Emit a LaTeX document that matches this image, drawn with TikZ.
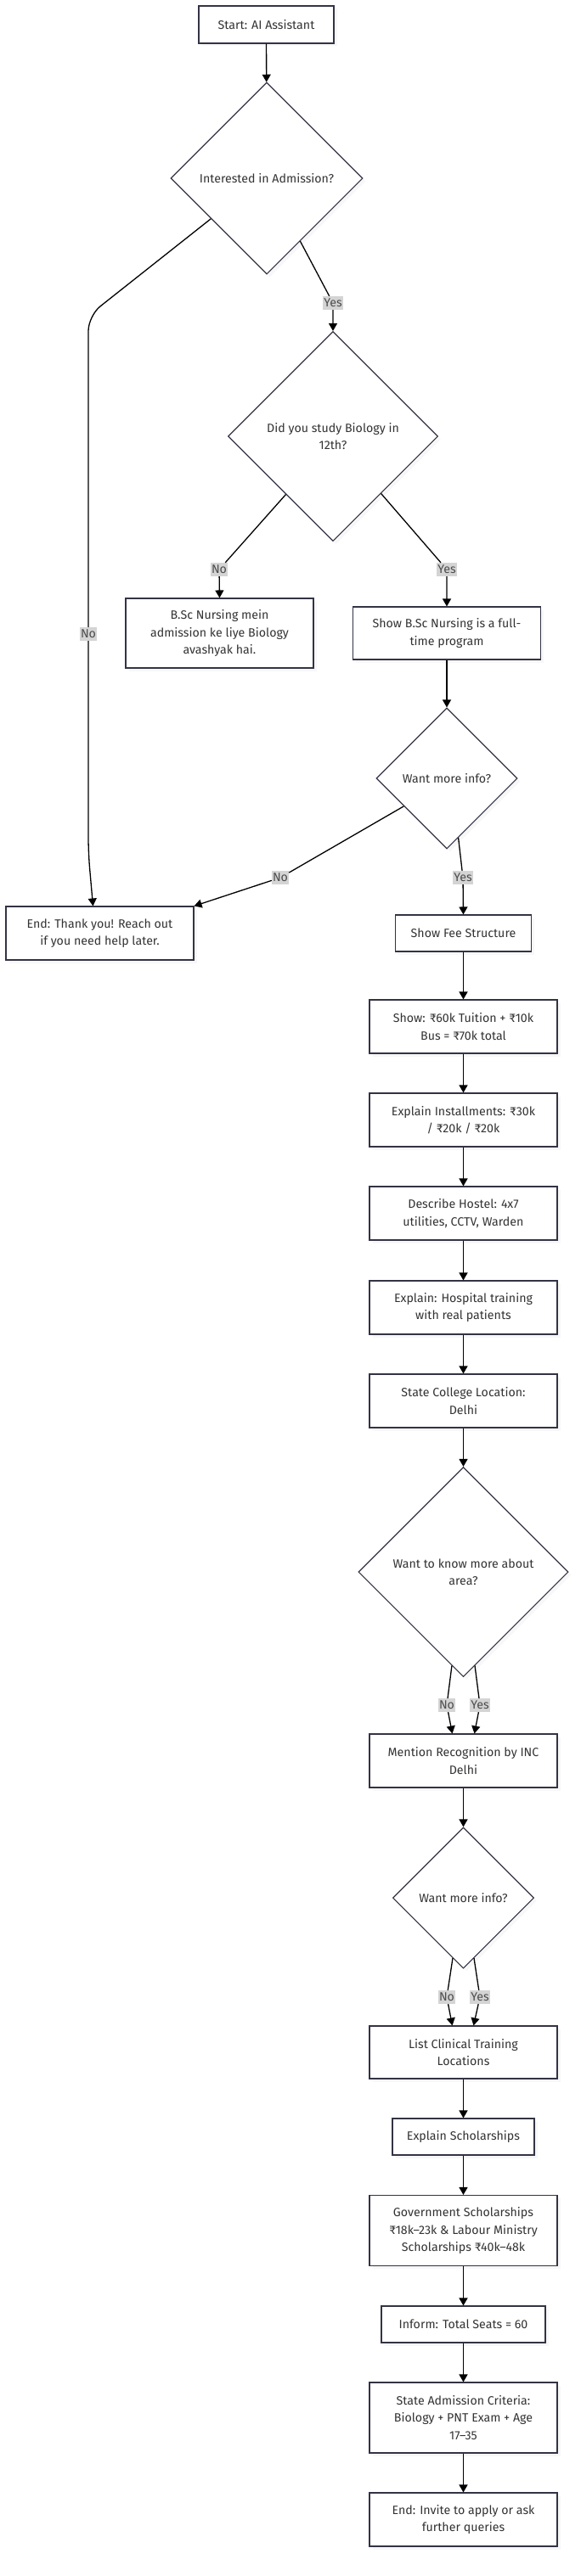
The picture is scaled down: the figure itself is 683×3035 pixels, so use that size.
\documentclass[tikz,border=0pt]{standalone}
\usepackage{fontspec}
\setmainfont{Fira Sans}
\usetikzlibrary{arrows.meta,shapes.geometric,shadows}
\definecolor{boxline}{HTML}{333344}
\definecolor{boxtext}{HTML}{333333}
\definecolor{lblfill}{HTML}{D4D4D4}
\tikzset{
	stepbox/.style={rectangle, draw=boxline, line width=1.1pt, fill=white, text=boxtext, align=center,
		font=\fontsize{14.2}{20.5}\selectfont, inner sep=0pt, minimum width=221pt, minimum height=63pt,
		drop shadow={shadow xshift=3.5pt, shadow yshift=-3.5pt, fill=black!6}},
	choice/.style={diamond, aspect=1, draw=boxline, line width=1.1pt, fill=white, text=boxtext, align=center,
		font=\fontsize{14.2}{20.5}\selectfont, inner sep=0pt, minimum width=#1, minimum height=#1,
		drop shadow={shadow xshift=3.5pt, shadow yshift=-3.5pt, fill=black!6}},
	lbl/.style={fill=lblfill, text=black!70, inner xsep=1pt, inner ysep=3pt, font=\fontsize{14.2}{16}\selectfont},
	flow/.style={draw=black, line width=1.3pt, -{Triangle[length=9pt,width=10pt]}}
}
\begin{document}
\begin{tikzpicture}[x=1pt, y=-1pt]
		%%%%% START %%%%%
		\useasboundingbox (0, 0) rectangle (683, 3035);
		
		\node[stepbox, minimum width=159pt, minimum height=44pt] (start) at (313.5, 29) {Start: AI Assistant};
		\node[choice=226pt] (admit) at (314, 210) {Interested in Admission?};
		\node[choice=247pt] (bio) at (392, 514) {Did you study Biology in\\12th?};
		\node[stepbox, minimum height=82pt] (nobio) at (258.5, 746) {B.Sc Nursing mein\\admission ke liye Biology\\avashyak hai.};
		\node[stepbox, minimum height=62pt] (fulltime) at (526, 746) {Show B.Sc Nursing is a full-\\time program};
		\node[choice=166pt] (info) at (526, 917) {Want more info?};
		\node[stepbox] (thanks) at (117.5, 1099.5) {End: Thank you! Reach out\\if you need help later.};
		
		\node[stepbox, minimum width=160pt, minimum height=43pt] (fee) at (545.5, 1099.5) {Show Fee Structure};
		\node[stepbox] (total) at (545.5, 1209.5) {Show: ₹60k Tuition + ₹10k\\Bus = ₹70k total};
		\node[stepbox] (instal) at (545.5, 1319.5) {Explain Installments: ₹30k\\/ ₹20k / ₹20k};
		\node[stepbox] (hostel) at (545.5, 1429.5) {Describe Hostel: 4x7\\utilities, CCTV, Warden};
		\node[stepbox] (hospital) at (545.5, 1540.5) {Explain: Hospital training\\with real patients};
		\node[stepbox] (college) at (545.5, 1650.5) {State College Location:\\Delhi};
		\node[choice=247pt] (area) at (545.5, 1852) {Want to know more about\\area?};
		\node[stepbox] (inc) at (545.5, 2074.5) {Mention Recognition by INC\\Delhi};
		\node[choice=166pt] (info2) at (545.5, 2236) {Want more info?};
		\node[stepbox, minimum height=62pt] (clinical) at (545.5, 2418) {List Clinical Training\\Locations};
		\node[stepbox, minimum width=167pt, minimum height=43pt] (schol) at (545.5, 2517.5) {Explain Scholarships};
		\node[stepbox, minimum height=83pt] (govt) at (545.5, 2628) {Government Scholarships\\₹18k–23k \& Labour Ministry\\Scholarships ₹40k–48k};
		\node[stepbox, minimum width=193pt, minimum height=43pt] (seats) at (545.5, 2738.5) {Inform: Total Seats = 60};
		\node[stepbox, minimum height=83pt] (criteria) at (545.5, 2848.5) {State Admission Criteria:\\Biology + PNT Exam + Age\\17–35};
		\node[stepbox] (invite) at (545.5, 2968.5) {End: Invite to apply or ask\\further queries};
		
		% edge labels
		\node[lbl] (yesA) at (392, 357) {Yes};
		\node[lbl] (noA) at (104, 747) {No};
		\node[lbl] (noB) at (258, 671) {No};
		\node[lbl] (yesB) at (526, 671) {Yes};
		\node[lbl] (noC) at (330, 1034) {No};
		\node[lbl] (yesC) at (545, 1034) {Yes};
		\node[lbl] (noD) at (526, 2009) {No};
		\node[lbl] (yesD) at (565, 2009) {Yes};
		\node[lbl] (noE) at (526, 2353) {No};
		\node[lbl] (yesE) at (565, 2353) {Yes};
		
		% connectors
		\draw[flow] (start) -- (admit);
		\draw[flow] (admit.-62) -- (yesA) -- (bio.north);
		\draw[flow, rounded corners=18pt] (admit.216) -- (104, 372) -- (noA) -- (104, 1005) -- ([xshift=-8pt]thanks.north);
		\draw[flow] (bio.231) -- (noB) -- (nobio.north);
		\draw[flow] (bio.-50) -- (yesB) -- (fulltime.north);
		\draw[flow] (fulltime) -- (info);
		\draw[flow, rounded corners=10pt] (info.213) -- (noC) -- (thanks.north east);
		\draw[flow] (info.-79.5) -- (yesC) -- (fee.north);
		
		\draw[flow] (fee) -- (total);
		\draw[flow] (total) -- (instal);
		\draw[flow] (instal) -- (hostel);
		\draw[flow] (hostel) -- (hospital);
		\draw[flow] (hospital) -- (college);
		\draw[flow] (college) -- (area);
		\draw[flow] (area.-97) -- (noD) -- ([xshift=-13pt]inc.north);
		\draw[flow] (area.-83) -- (yesD) -- ([xshift=13pt]inc.north);
		\draw[flow] (inc) -- (info2);
		\draw[flow] (info2.-100) -- (noE) -- ([xshift=-13pt]clinical.north);
		\draw[flow] (info2.-80) -- (yesE) -- ([xshift=12pt]clinical.north);
		\draw[flow] (clinical) -- (schol);
		\draw[flow] (schol) -- (govt);
		\draw[flow] (govt) -- (seats);
		\draw[flow] (seats) -- (criteria);
		\draw[flow] (criteria) -- (invite);
		%%%%% END %%%%%
\end{tikzpicture}
\end{document}
